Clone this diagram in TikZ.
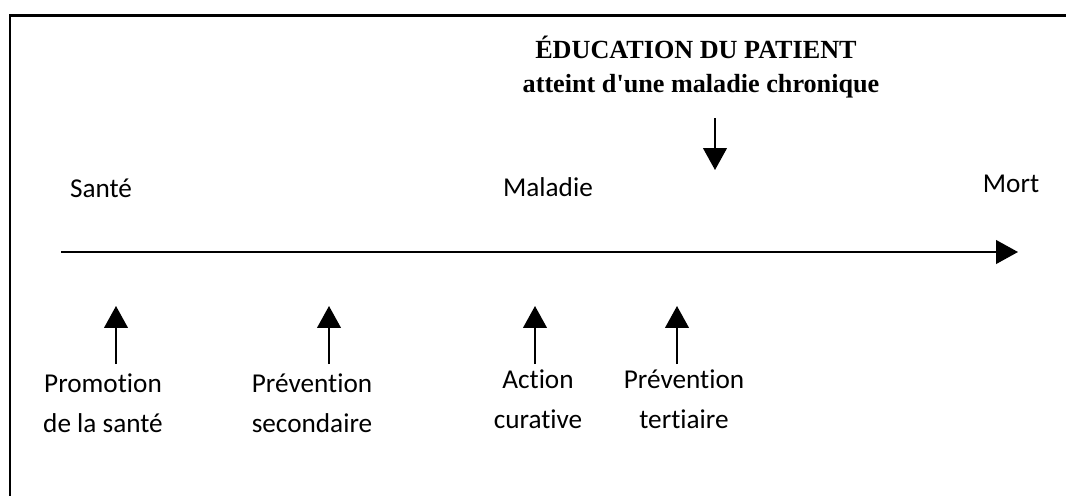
\documentclass[tikz,border=0pt]{standalone}
\usepackage{fontspec}
\setmainfont{Liberation Serif}
\newfontfamily\stagefont[Ligatures=NoCommon]{Carlito}
\usetikzlibrary{arrows.meta}
\tikzset{
    frame-line/.style = {line width=1.7pt},
    flow-arrow/.style = {line width=1.1pt, -{Triangle[length=12.5pt, width=13.5pt]}},
    stage-text/.style = {font=\stagefont\fontsize{15.5}{22.3}\selectfont, anchor=base, inner sep=0pt},
    action-text/.style = {stage-text, align=center},
    title-text/.style = {font=\bfseries\fontsize{14.9}{19.3}\selectfont, anchor=base, inner sep=0pt},
}

\begin{document}
\begin{tikzpicture}[x=0.02cm, y=-0.02cm]
\useasboundingbox (0,0) rectangle (1066,495);
\coordinate (frame-bottom) at (10,497);
\coordinate (frame-corner) at (10,15.5);
\coordinate (frame-right) at (1068,15.5);
\draw[frame-line] (frame-bottom) -- (frame-corner) -- (frame-right);

\node[title-text] (education) at (696,58) {ÉDUCATION DU PATIENT};
\node[title-text] (chronique) at (701,92) {atteint d\textquotesingle une maladie chronique};
\coordinate (chronique-tail) at (715,118);
\coordinate (chronique-tip) at (715,170);
\draw[flow-arrow] (chronique-tail) -- (chronique-tip);

\node[stage-text] (sante) at (101,197) {Santé};
\node[stage-text] (maladie) at (548,196) {Maladie};
\node[stage-text] (mort) at (1011,192) {Mort};
\coordinate (axis-start) at (61,252);
\coordinate (axis-end) at (1018,252);
\draw[flow-arrow] (axis-start) -- (axis-end);

\foreach \x/\name in {116/promotion, 329/secondaire, 535/curative, 677/tertiaire}{
    \coordinate (\name-tail) at (\x,364);
    \coordinate (\name-tip) at (\x,306);
    \draw[flow-arrow] (\name-tail) -- (\name-tip);
}
\node[action-text] (promotion) at (103,432) {Promotion\\de la santé};
\node[action-text] (secondaire) at (312,432) {Prévention\\secondaire};
\node[action-text] (curative) at (538,428) {Action\\curative};
\node[action-text] (tertiaire) at (684,428) {Prévention\\tertiaire};
\end{tikzpicture}
\end{document}
